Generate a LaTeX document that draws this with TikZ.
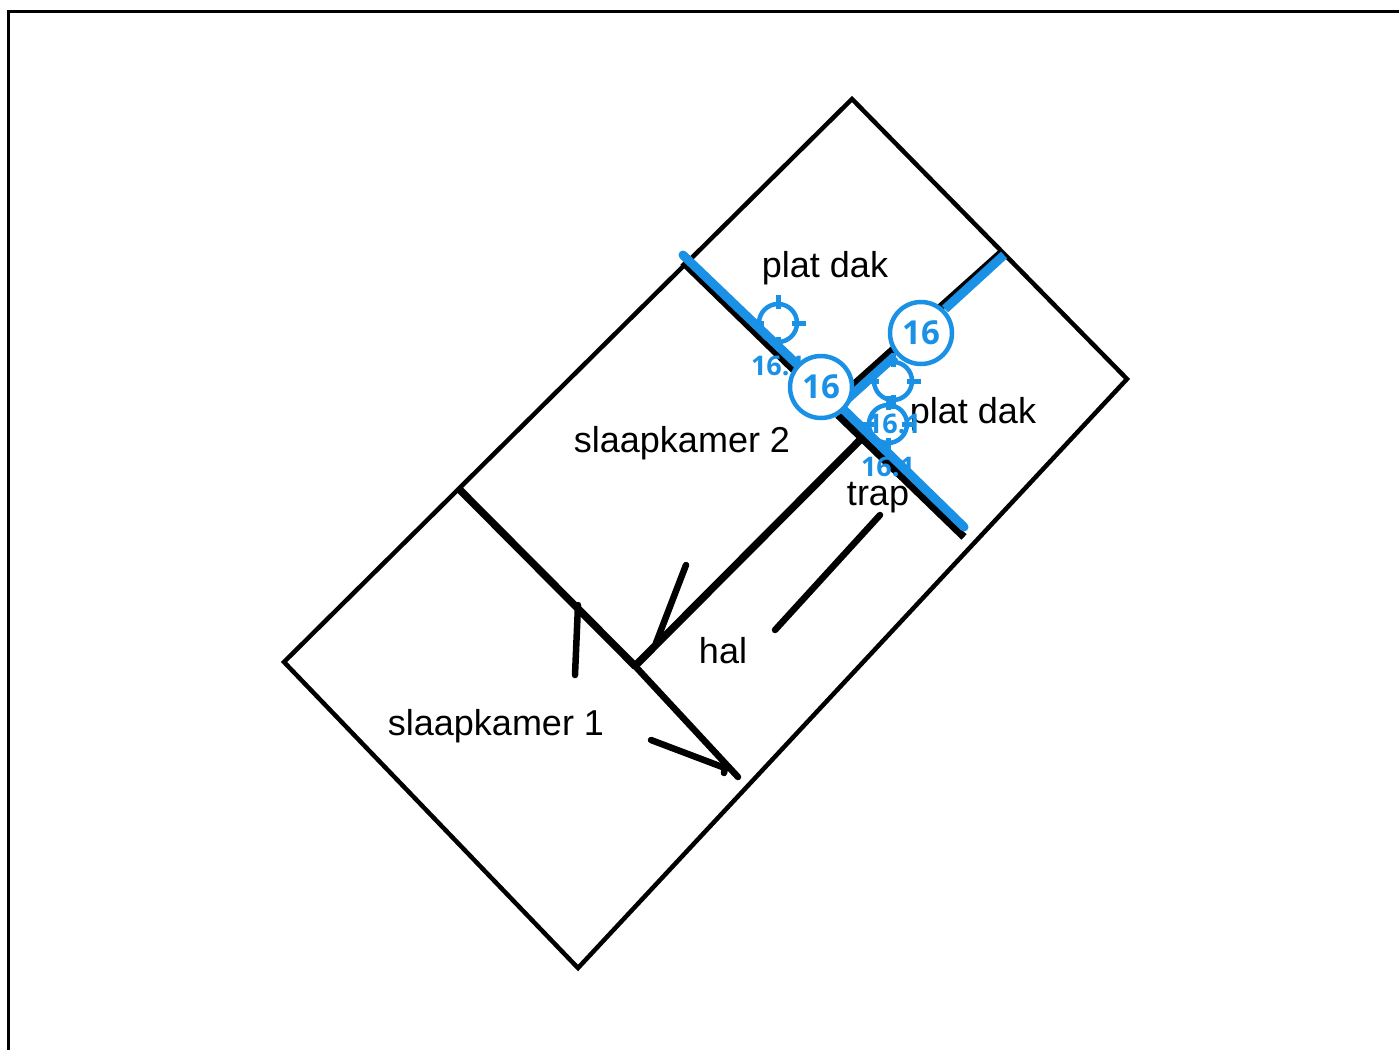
\documentclass[tikz,border=0pt]{standalone}
\usepackage{fontspec}
\setmainfont{Liberation Sans}
\newfontfamily\numfont{Open Sans}
\definecolor{planblue}{RGB}{27,145,230}
\tikzset{
  room/.style={font=\fontsize{36}{38}\selectfont,text=black,inner sep=0pt},
  wall/.style={draw=black,line width=7.5pt,line cap=round},
  thinwall/.style={draw=black,line width=4.5pt,line join=miter},
  cutline/.style={draw=planblue,line width=9pt},
  bubble/.style={circle,draw=planblue,fill=white,line width=4.5pt,minimum size=62pt,inner sep=0pt,text=planblue,font=\numfont\bfseries\fontsize{33}{35}\selectfont},
  aim/.style={circle,draw=planblue,line width=4.5pt,minimum size=38pt,inner sep=0pt},
  aimtick/.style={draw=planblue,line width=5pt},
  sublabel/.style={text=planblue,inner sep=0pt,font=\numfont\bfseries\fontsize{27}{29}\selectfont}
}
\begin{document}
\begin{tikzpicture}[x=1pt,y=-1pt]
\useasboundingbox (0,0) rectangle (1399,1050);
% frame
\coordinate (fa) at (8,1050);\coordinate (fb) at (8,11);\coordinate (fc) at (1399,11);
\draw[black,line width=3pt] (fa) -- (fb) -- (fc);
% outline
\coordinate (o1) at (852,99);\coordinate (o2) at (1127,379);\coordinate (o3) at (578,968);\coordinate (o4) at (284,662);
\draw[thinwall] (o1) -- (o2) -- (o3) -- (o4) -- cycle;
% inner walls
\coordinate (w1) at (460,490);\coordinate (w2) at (635,666);\coordinate (w3) at (738,777);
\coordinate (w4) at (862,438);\coordinate (w5) at (683,262);\coordinate (w6) at (796,372);
\coordinate (w7) at (838,415);\coordinate (w8) at (964,537);\coordinate (w9) at (850,388);\coordinate (w10) at (1002,252);
\draw[wall,line cap=butt] (w1) -- (w2);
\draw[wall,line width=6.5pt] (w2) -- (w3);
\draw[wall] (w2) -- (w4);
\draw[wall,line cap=butt] (w5) -- (w6);
\draw[wall,line cap=butt] (w7) -- (w8);
\draw[wall,line cap=butt] (w9) -- (w10);
% strokes
\coordinate (s1) at (686,565);\coordinate (s2) at (656,643);
\coordinate (s3) at (578,605);\coordinate (s4) at (575,675);
\coordinate (s5) at (651,740);\coordinate (s6) at (725,768);\coordinate (s7) at (724,773);
\coordinate (s8) at (880,515);\coordinate (s9) at (775,630);
\draw[wall,line width=6.5pt] (s1) -- (s2);
\draw[wall,line width=6.5pt] (s3) -- (s4);
\draw[wall,line width=6.5pt] (s5) -- (s6) -- (s7);
\draw[wall,line width=6.5pt] (s8) -- (s9);
% blue cut lines
\coordinate (b1) at (683,255);\coordinate (b2) at (802,369);
\coordinate (b3) at (841,407);\coordinate (b4) at (964,527);
\coordinate (b5) at (843,403);\coordinate (b6) at (895,356);
\coordinate (b7) at (945,309);\coordinate (b8) at (1004,255);
\draw[cutline,line cap=round] (b1) -- (b2);
\draw[cutline,line cap=round] (b3) -- (b4);
\draw[cutline] (b5) -- (b6);
\draw[cutline] (b7) -- (b8);
% room labels
\node[room] (l1) at (825,268) {plat dak};
\node[room] (l2) at (682,443) {slaapkamer 2};
\node[room] (l3) at (973,414) {plat dak};
\node[room] (l4) at (878,498) {trap};
\node[room] (l5) at (723,651) {hal};
\node[room] (l6) at (496,726) {slaapkamer 1};
% aim symbols
\foreach \n/\cx/\cy in {a1/778/323,a2/893/381,a3/888/424}{
  \node[aim] (\n) at (\cx,\cy) {};
  \draw[aimtick] (\n.north) ++(0,-7) -- ++(0,14);
  \draw[aimtick] (\n.south) ++(0,-7) -- ++(0,14);
  \draw[aimtick] (\n.west) ++(-7,0) -- ++(14,0);
  \draw[aimtick] (\n.east) ++(-7,0) -- ++(14,0);
}
\node[sublabel] (t1) at (778,366) {16.1};
\node[sublabel] (t2) at (888,467) {16.1};
\node[sublabel] (t3) at (894,424) {16.1};
\node[bubble] (c1) at (821,387) {16};
\node[bubble] (c2) at (921,333) {16};
\end{tikzpicture}
\end{document}
